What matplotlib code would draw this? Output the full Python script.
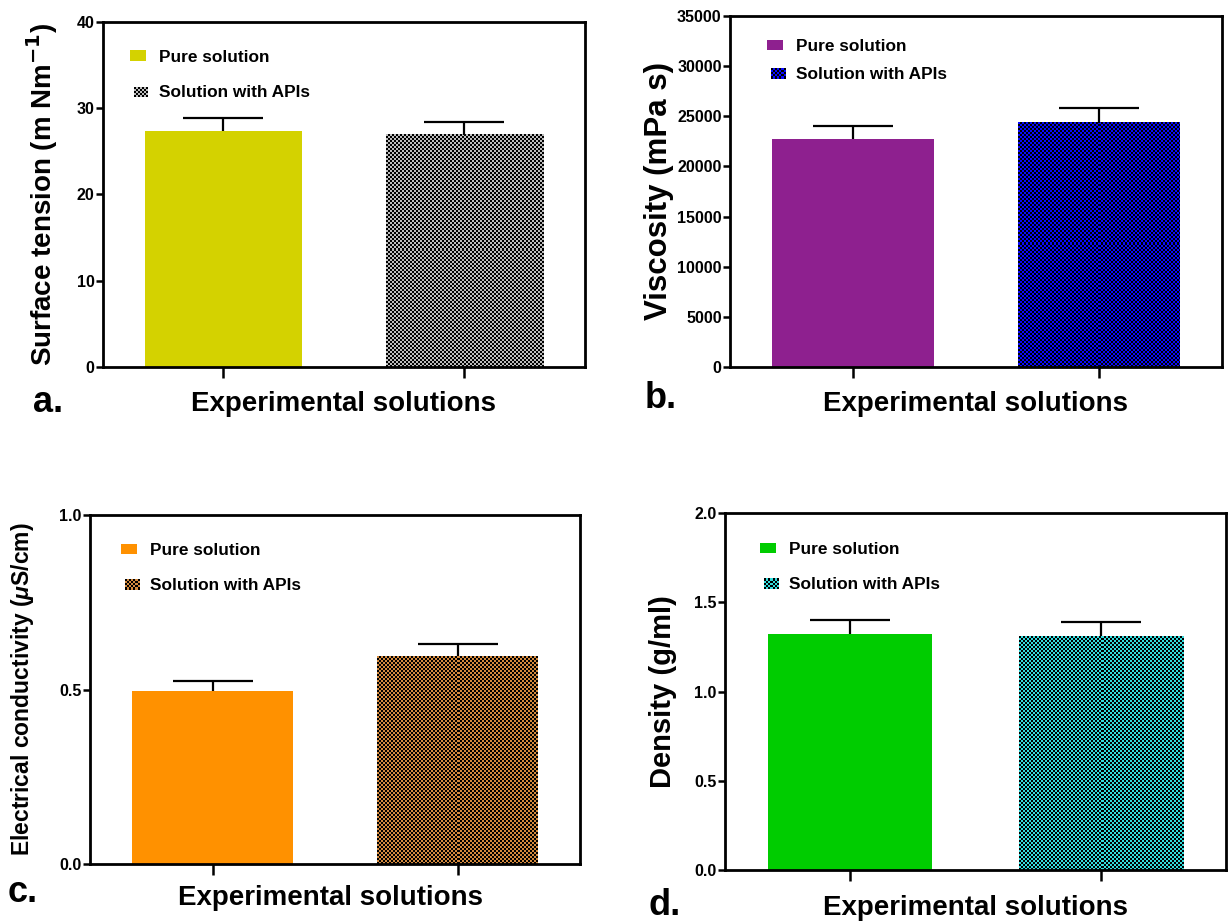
import numpy as np
import matplotlib
matplotlib.use('Agg')
import matplotlib.pyplot as plt
from matplotlib.colors import ListedColormap
from matplotlib.patches import Patch, Rectangle
from matplotlib.legend_handler import HandlerBase

plt.rcParams['font.family'] = ['Liberation Sans', 'DejaVu Sans']
plt.rcParams['font.weight'] = 'bold'
plt.rcParams['mathtext.fontset'] = 'custom'
plt.rcParams['mathtext.rm'] = 'Liberation Sans:bold'
plt.rcParams['mathtext.it'] = 'Liberation Sans:italic'

# =============================================================================
# Data
# =============================================================================
groups = ['Pure solution', 'Solution with APIs']

tension_mean = [27.4, 26.9]
tension_err  = [1.5, 1.5]

viscosity_mean = [22700, 24350]
viscosity_err  = [1350, 1450]

conductivity_mean = [0.495, 0.595]
conductivity_err  = [0.030, 0.035]

density_mean = [1.32, 1.31]
density_err  = [0.08, 0.08]

W, H = 1229, 921


def px_axes(left, top, right, bottom):
    return [left / W, 1 - bottom / H, (right - left) / W, (bottom - top) / H]


def checker_fill(ax, bar, light):
    """Paint a 2px black/colour checkerboard inside a bar (pixel resolution)."""
    x0, y0 = bar.get_x(), bar.get_y()
    x1, y1 = x0 + bar.get_width(), y0 + bar.get_height()
    (px0, py0), (px1, py1) = ax.transData.transform([(x0, y0), (x1, y1)])
    nx = max(1, int(round(px1 - px0)))
    ny = max(1, int(round(py1 - py0)))
    grid = (np.arange(ny)[:, None] // 2 + np.arange(nx)[None, :] // 2) % 2
    ax.imshow(grid, cmap=ListedColormap(['black', light]), extent=(x0, x1, y0, y1),
              aspect='auto', interpolation='none', origin='lower', zorder=2.1)


class CheckerHandler(HandlerBase):
    """Legend key drawn as a small checkerboard."""
    def __init__(self, light, cell=1.5):
        super().__init__()
        self.light = light
        self.cell = cell

    def create_artists(self, legend, orig_handle, xdescent, ydescent,
                       width, height, fontsize, trans):
        arts = []
        nx = int(width // self.cell)
        ny = int(height // self.cell) + 1
        x0 = -xdescent + 3
        y0 = -ydescent - 0.5
        for i in range(nx):
            for j in range(ny):
                col = 'black' if (i + j) % 2 == 0 else self.light
                arts.append(Rectangle((x0 + i * self.cell, y0 + j * self.cell),
                                      self.cell, self.cell, facecolor=col,
                                      linewidth=0, transform=trans))
        return arts


def panel(rect, means, errs, solid, light, ylim, yticks, ytick_fmt,
          ylabel, ylabel_size, ylabel_x, xlabel_y, xlabel_x, leg_anchor, leg_space):
    ax = fig.add_axes(rect)
    x = np.arange(len(means))
    ax.set_xlim(-0.5, 1.5)
    ax.set_ylim(*ylim)
    bars = ax.bar(x, means, width=0.655, color=[solid, light], linewidth=0, zorder=2)
    checker_fill(ax, bars[1], light)

    # upper error bar only: hide the cap that sits on the bar top
    _, caps, _ = ax.errorbar(x, means, yerr=[np.zeros(len(errs)), errs], fmt='none',
                             ecolor='black', elinewidth=1.6, capsize=29,
                             capthick=1.6, zorder=3)
    for c in caps:
        if np.allclose(c.get_ydata(), means):
            c.set_visible(False)
    ax.set_xlim(-0.5, 1.5)
    ax.set_ylim(*ylim)

    ax.set_xticks(x)
    ax.set_xticklabels([])
    ax.set_yticks(yticks)
    ax.set_yticklabels([ytick_fmt.format(v) for v in yticks])
    ax.tick_params(axis='y', direction='out', length=5, width=1.8, labelsize=11.5, pad=1)
    ax.tick_params(axis='x', direction='out', length=8, width=1.8)
    for s in ax.spines.values():
        s.set_linewidth(2.0)

    ax.set_ylabel(ylabel, fontsize=ylabel_size, fontweight='bold')
    ax.yaxis.set_label_coords(ylabel_x, 0.5)
    ax.set_xlabel('Experimental solutions', fontsize=20, fontweight='bold')
    ax.xaxis.set_label_coords(xlabel_x, xlabel_y)

    solid_key = Patch(facecolor=solid, linewidth=0)
    checker_key = Patch(facecolor=light, linewidth=0)
    ax.legend([solid_key, checker_key], groups, loc='upper left',
              bbox_to_anchor=leg_anchor, handler_map={checker_key: CheckerHandler(light)},
              frameon=False, fontsize=12.4, handlelength=0.95, handleheight=0.55,
              handletextpad=0.75, labelspacing=leg_space, borderpad=0, borderaxespad=0)
    return ax


fig = plt.figure(figsize=(W / 100, H / 100), dpi=100)

# a. surface tension
panel(px_axes(103, 22, 585, 367), tension_mean, tension_err,
      '#D4D200', '#BDBDBD', (0, 40), [0, 10, 20, 30, 40], '{:g}',
      r'Surface tension (m Nm$^{\mathbf{-1}}$)', 20, -0.09, -0.07, 0.5,
      (0.055, 0.92), 1.2)

# b. viscosity
panel(px_axes(730, 16, 1222, 367), viscosity_mean, viscosity_err,
      '#8E208F', '#0A0AFF', (0, 35000), list(range(0, 35001, 5000)), '{:d}',
      'Viscosity (mPa s)', 22.5, -0.113, -0.067, 0.5, (0.075, 0.935), 0.75)

# c. electrical conductivity
panel(px_axes(90, 515, 580, 864), conductivity_mean, conductivity_err,
      '#FF9100', '#D48A3E', (0, 1.0), [0.0, 0.5, 1.0], '{:.1f}',
      r'Electrical conductivity ($\mu$S/cm)', 16.5, -0.11, -0.06, 0.49,
      (0.063, 0.92), 1.15)

# d. density
panel(px_axes(725, 513, 1226, 870), density_mean, density_err,
      '#00CC00', '#33DDDD', (0, 2.0), [0.0, 0.5, 1.0, 1.5, 2.0], '{:.1f}',
      'Density (g/ml)', 21, -0.095, -0.069, 0.5, (0.07, 0.918), 1.15)

# panel letters
for letter, (lx, ly) in zip(['a.', 'b.', 'c.', 'd.'],
                            [(33, 403), (645, 398), (8, 892), (649, 905)]):
    fig.text(lx / W, 1 - ly / H, letter, fontsize=26, fontweight='bold',
             ha='left', va='center')

fig.savefig('out.png', dpi=100)
